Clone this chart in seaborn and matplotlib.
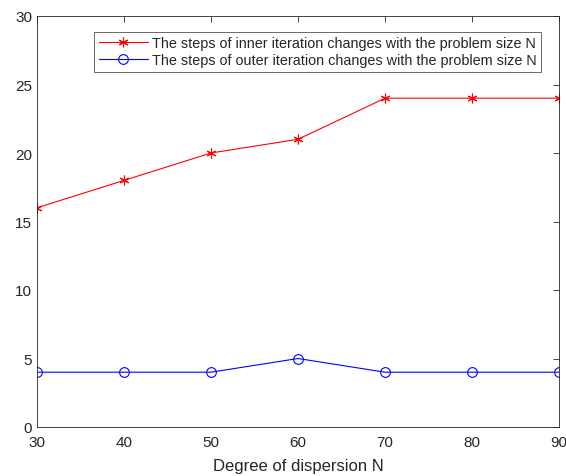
import matplotlib
matplotlib.use("Agg")
import matplotlib.pyplot as plt
import seaborn as sns
import pandas as pd

# data
sizes = [30, 40, 50, 60, 70, 80, 90]
inner_steps = [16, 18, 20, 21, 24, 24, 24]
outer_steps = [4, 4, 4, 5, 4, 4, 4]
inner_label = "The steps of inner iteration changes with the problem size N"
outer_label = "The steps of outer iteration changes with the problem size N"

sns.set_style("white")
plt.rcParams['font.family'] = ['Liberation Sans', 'DejaVu Sans']

df = pd.DataFrame({"N": sizes, "inner": inner_steps, "outer": outer_steps})

fig = plt.figure(figsize=(5.66, 4.77), dpi=100)
ax = fig.add_axes([37 / 566, 49 / 477, 522 / 566, 411 / 477])

# seaborn refuses to mix line-art and filled markers in one call, so two calls
sns.lineplot(data=df, x="N", y="inner", color="#ff0000", marker=(6, 2, 0),
             markersize=7, linewidth=0.8, markeredgecolor="#ff0000",
             markeredgewidth=0.8, label=inner_label, ax=ax)
sns.lineplot(data=df, x="N", y="outer", color="#0000ff", marker="o",
             markersize=7, linewidth=0.8, markerfacecolor="none",
             markeredgecolor="#0000ff", markeredgewidth=0.8,
             label=outer_label, ax=ax)

ax.set_xlim(30, 90)
ax.set_ylim(0, 30)
ax.set_xticks(sizes)
ax.set_yticks(range(0, 31, 5))
ax.set_xlabel("Degree of dispersion N", fontsize=12, labelpad=6, color="#262626")
ax.set_ylabel("")
ax.tick_params(direction="in", length=4, width=0.6, labelsize=11,
               top=True, right=True, colors="#262626", labelcolor="#262626")
ax.tick_params(axis="x", pad=6)
for s in ax.spines.values():
    s.set_linewidth(0.6)
    s.set_color("#262626")

leg = ax.legend(loc="upper right", bbox_to_anchor=(0.9655, 0.961),
                fontsize=10.4, frameon=True, fancybox=False, borderaxespad=0,
                handlelength=3.4, handletextpad=0.3, labelspacing=0.2,
                borderpad=0.3)
leg.get_frame().set_edgecolor("#262626")
leg.get_frame().set_linewidth(0.6)

fig.savefig("out.png", dpi=100)
